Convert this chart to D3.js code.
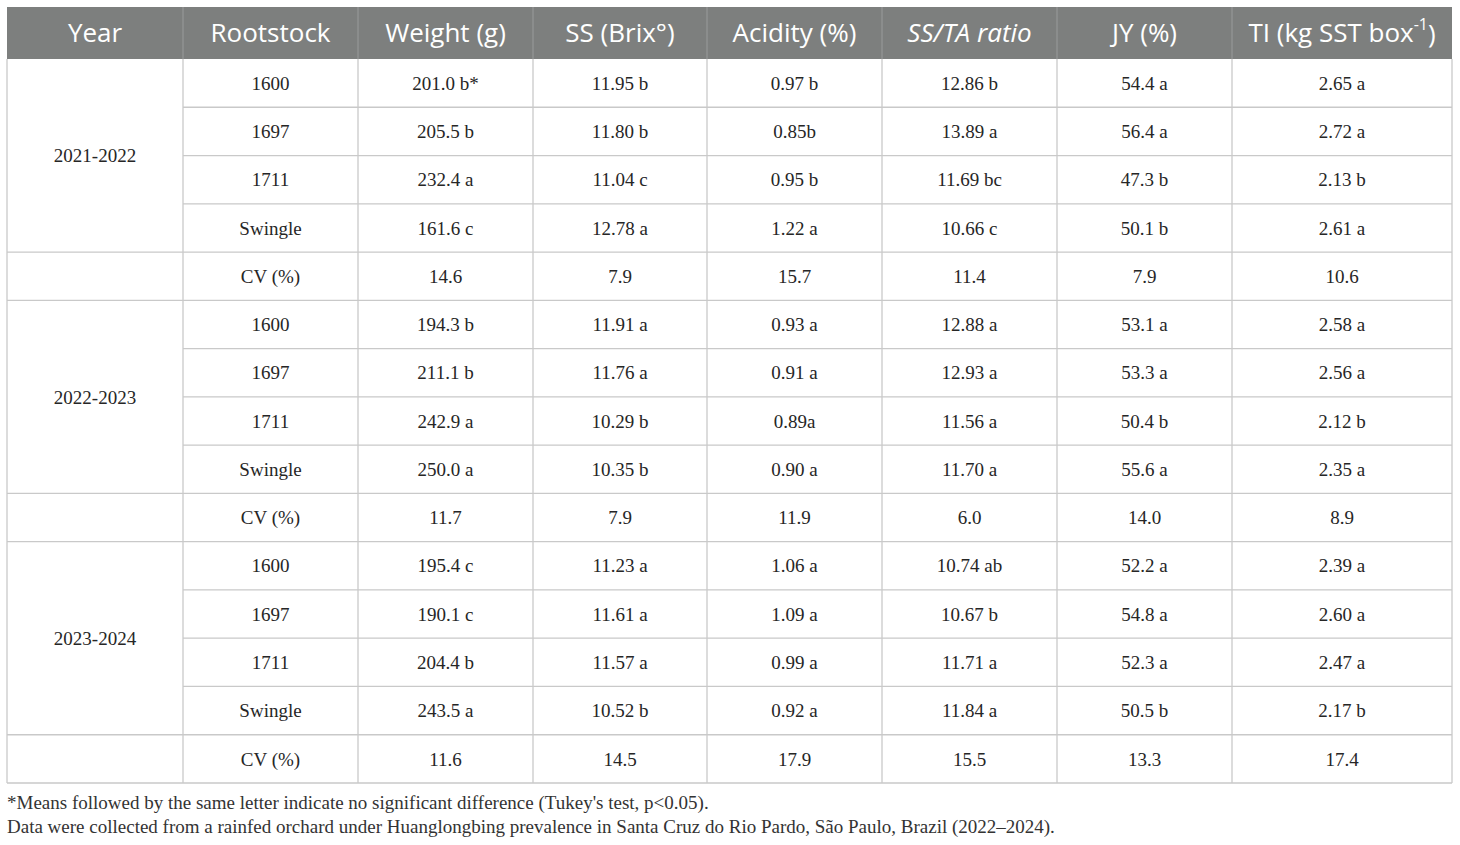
<!DOCTYPE html>
<html>
<head>
<meta charset="utf-8">
<script src="https://cdn.jsdelivr.net/npm/d3@7"></script>
<style>
  body { margin: 0; background: #fff; }
  svg { display: block; }
</style>
</head>
<body>
<svg id="table" width="1460" height="845"></svg>
<script>
// Table content
const headers = ['Year', 'Rootstock', 'Weight (g)', 'SS (Brix°)', 'Acidity (%)', 'SS/TA ratio', 'JY (%)', 'TI (kg SST box'];
const years = ['2021-2022', '2022-2023', '2023-2024'];
const rootstocks = ['1600', '1697', '1711', 'Swingle', 'CV (%)'];

const weight = ['201.0 b*', '205.5 b', '232.4 a', '161.6 c', '14.6',
                '194.3 b', '211.1 b', '242.9 a', '250.0 a', '11.7',
                '195.4 c', '190.1 c', '204.4 b', '243.5 a', '11.6'];
const ss = ['11.95 b', '11.80 b', '11.04 c', '12.78 a', '7.9',
            '11.91 a', '11.76 a', '10.29 b', '10.35 b', '7.9',
            '11.23 a', '11.61 a', '11.57 a', '10.52 b', '14.5'];
const acidity = ['0.97 b', '0.85b', '0.95 b', '1.22 a', '15.7',
                 '0.93 a', '0.91 a', '0.89a', '0.90 a', '11.9',
                 '1.06 a', '1.09 a', '0.99 a', '0.92 a', '17.9'];
const ratio = ['12.86 b', '13.89 a', '11.69 bc', '10.66 c', '11.4',
               '12.88 a', '12.93 a', '11.56 a', '11.70 a', '6.0',
               '10.74 ab', '10.67 b', '11.71 a', '11.84 a', '15.5'];
const jy = ['54.4 a', '56.4 a', '47.3 b', '50.1 b', '7.9',
            '53.1 a', '53.3 a', '50.4 b', '55.6 a', '14.0',
            '52.2 a', '54.8 a', '52.3 a', '50.5 b', '13.3'];
const ti = ['2.65 a', '2.72 a', '2.13 b', '2.61 a', '10.6',
            '2.58 a', '2.56 a', '2.12 b', '2.35 a', '8.9',
            '2.39 a', '2.60 a', '2.47 a', '2.17 b', '17.4'];

const notes = [
    "*Means followed by the same letter indicate no significant difference (Tukey's test, p<0.05).",
    'Data were collected from a rainfed orchard under Huanglongbing prevalence in Santa Cruz do Rio Pardo, São Paulo, Brazil (2022–2024).'
];

// Layout
const colEdges = [7, 183, 358, 533, 707, 882, 1057, 1232, 1452];
const tableTop = 7, headH = 52, tableBottom = 783;
const gridColor = '#c9c9c9';

const svg = d3.select('#table');

const nRows = years.length * rootstocks.length;
const y = d3.scaleBand().domain(d3.range(nRows)).range([tableTop + headH, tableBottom]);
const x = i => (colEdges[i] + colEdges[i + 1]) / 2;

// build rows
const columns = [weight, ss, acidity, ratio, jy, ti];
const rows = d3.range(nRows).map(i => ({
    i,
    stock: rootstocks[i % rootstocks.length],
    vals: columns.map(c => c[i])
}));

// header
svg.append('rect')
    .attr('x', colEdges[0]).attr('y', tableTop)
    .attr('width', colEdges[colEdges.length - 1] - colEdges[0])
    .attr('height', headH)
    .attr('fill', '#7d7f7e');

svg.append('g')
    .selectAll('line')
    .data(colEdges.slice(1, -1))
    .join('line')
    .attr('x1', d => d).attr('x2', d => d)
    .attr('y1', tableTop).attr('y2', tableTop + headH)
    .attr('stroke', '#9a9c9b')
    .attr('stroke-width', 1);

const head = svg.append('g')
    .attr('font-family', '"Open Sans", sans-serif')
    .attr('font-size', 26)
    .attr('fill', '#fff');

headers.forEach((h, i) => {
    const t = head.append('text')
        .attr('x', x(i))
        .attr('y', tableTop + headH / 2)
        .attr('dy', '0.36em')
        .attr('text-anchor', 'middle');
    if (i === 5) {
        t.attr('font-style', 'italic').text(h);
    } else if (i === 7) {
        t.append('tspan').text(h);
        t.append('tspan').attr('font-size', 16).attr('dy', '-0.75em').text('-1');
        t.append('tspan').attr('dy', '0.47em').text(')');
    } else {
        t.text(h);
    }
});

// grid: horizontal lines
const hLines = [];
d3.range(nRows + 1).forEach(i => {
    const yy = i < nRows ? y(i) : tableBottom;
    const groupEdge = i % rootstocks.length === 0 || i % rootstocks.length === rootstocks.length - 1;
    hLines.push({ y: yy, x1: groupEdge ? colEdges[0] : colEdges[1], x2: colEdges[colEdges.length - 1] });
});

const grid = svg.append('g').attr('stroke', gridColor).attr('stroke-width', 1.3);

grid.selectAll('line.h')
    .data(hLines.slice(1))
    .join('line')
    .attr('class', 'h')
    .attr('x1', d => d.x1).attr('x2', d => d.x2)
    .attr('y1', d => d.y).attr('y2', d => d.y);

grid.selectAll('line.v')
    .data(colEdges)
    .join('line')
    .attr('class', 'v')
    .attr('x1', d => d).attr('x2', d => d)
    .attr('y1', tableTop + headH).attr('y2', tableBottom);

// body text
const body = svg.append('g')
    .attr('font-family', '"Liberation Serif", "Times New Roman", serif')
    .attr('font-size', 19)
    .attr('fill', '#262626')
    .attr('text-anchor', 'middle');

body.selectAll('text.year')
    .data(years)
    .join('text')
    .attr('class', 'year')
    .attr('x', x(0))
    .attr('y', (d, g) => (y(g * rootstocks.length) + y(g * rootstocks.length + 3) + y.bandwidth()) / 2)
    .attr('dy', '0.35em')
    .text(d => d);

const rowG = body.selectAll('g.row')
    .data(rows)
    .join('g')
    .attr('class', 'row')
    .attr('transform', d => `translate(0,${y(d.i) + y.bandwidth() / 2})`);

rowG.append('text')
    .attr('x', x(1))
    .attr('dy', '0.35em')
    .text(d => d.stock);

rowG.selectAll('text.val')
    .data(d => d.vals)
    .join('text')
    .attr('class', 'val')
    .attr('x', (d, j) => x(j + 2))
    .attr('dy', '0.35em')
    .text(d => d);

// footnotes
svg.append('g')
    .attr('font-family', '"Liberation Serif", "Times New Roman", serif')
    .attr('font-size', 19)
    .attr('fill', '#333')
    .selectAll('text')
    .data(notes)
    .join('text')
    .attr('x', 7)
    .attr('y', (d, i) => 809 + i * 24)
    .text(d => d);
</script>
</body>
</html>
